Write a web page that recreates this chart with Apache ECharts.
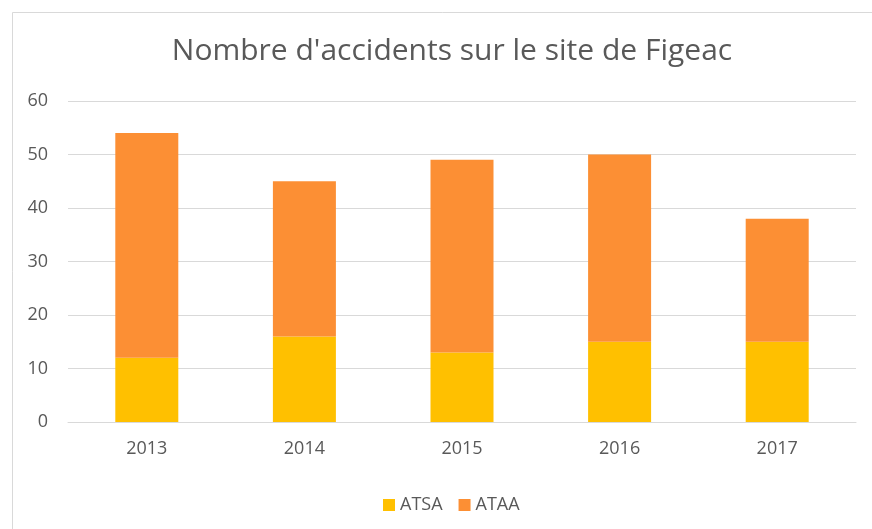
<!DOCTYPE html>
<html>
<head>
<meta charset="utf-8">
<script src="https://cdn.jsdelivr.net/npm/echarts@6/dist/echarts.min.js"></script>
<style>
  html, body { margin: 0; padding: 0; background: #fff; }
  #main { width: 872px; height: 529px; }
</style>
</head>
<body>
<div id="main"></div>
<script>
// data
const years = ['2013', '2014', '2015', '2016', '2017'];
const atsa = [12, 16, 13, 15, 15];
const ataa = [42, 29, 36, 35, 23];
const yTicks = [0, 10, 20, 30, 40, 50, 60];

const textColor = '#595959';
const font = 'Open Sans';

let myChart = echarts.init(document.getElementById('main'));

let options = {
    animation: false,
    backgroundColor: '#fff',
    graphic: [{
        type: 'rect',
        left: 10, top: 10,
        shape: { width: 900, height: 560 },
        style: { fill: 'none', stroke: '#d9d9d9', lineWidth: 1 }
    }],
    title: {
        text: "Nombre d'accidents sur le site de Figeac",
        left: 447, top: 31, textAlign: 'center',
        textStyle: { fontFamily: font, fontSize: 30, fontWeight: 'normal', color: textColor }
    },
    legend: {
        data: ['ATSA', 'ATAA'],
        left: 378, top: 491,
        itemWidth: 12, itemHeight: 12, itemGap: 16,
        icon: 'rect',
        textStyle: { fontFamily: font, fontSize: 18, color: textColor }
    },
    grid: { left: 68, right: 16, top: 101, bottom: 107 },
    xAxis: {
        type: 'category',
        data: years,
        axisLine: { lineStyle: { color: '#d9d9d9' } },
        axisTick: { show: false },
        axisLabel: { fontFamily: font, fontSize: 18, color: textColor, margin: 18 }
    },
    yAxis: {
        type: 'value',
        min: yTicks[0], max: yTicks[yTicks.length - 1], interval: 10,
        splitLine: { lineStyle: { color: '#d9d9d9' } },
        axisLabel: { fontFamily: font, fontSize: 18, color: textColor, margin: 20 }
    },
    series: [{
        name: 'ATSA',
        type: 'bar',
        stack: 'total',
        barWidth: 63,
        data: atsa,
        itemStyle: { color: '#ffc000' }
    }, {
        name: 'ATAA',
        type: 'bar',
        stack: 'total',
        barWidth: 63,
        data: ataa,
        itemStyle: { color: '#fc8f34' }
    }]
};

myChart.setOption(options);
</script>
</body>
</html>
